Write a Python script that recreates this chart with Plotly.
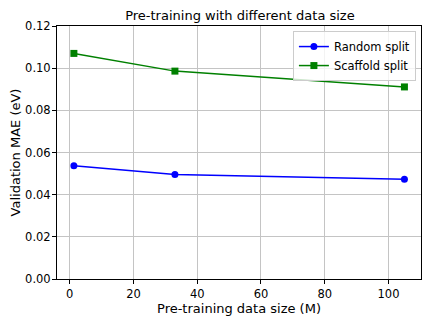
import plotly.graph_objects as go

data_size = [1.3, 33, 105]
random_split = [0.0537, 0.0496, 0.0473]
scaffold_split = [0.1070, 0.0986, 0.0911]

fig = go.Figure()
fig.add_trace(go.Scatter(x=data_size, y=random_split, mode="lines+markers", name="Random split",
                         line=dict(color="blue", width=1.5), marker=dict(symbol="circle", size=7, color="blue")))
fig.add_trace(go.Scatter(x=data_size, y=scaffold_split, mode="lines+markers", name="Scaffold split",
                         line=dict(color="green", width=1.5), marker=dict(symbol="square", size=7, color="green")))

axis_common = dict(showline=True, linecolor="black", linewidth=1, mirror=True,
                   ticks="outside", ticklen=4, tickcolor="black", automargin=False,
                   showgrid=True, gridcolor="#c4c4c4", gridwidth=1, zeroline=False,
                   tickfont=dict(family="DejaVu Sans", size=11.5, color="black"))

# The page body has an 8px default margin, so the figure is sized to fit inside the window.
fig.update_layout(
    width=424, height=316,
    margin=dict(l=49, r=11, t=18, b=45, autoexpand=False),
    paper_bgcolor="white", plot_bgcolor="white",
    title=dict(text="Pre-training with different data size", x=0.547, xanchor="center",
               y=0.975, yanchor="middle", font=dict(family="DejaVu Sans", size=13, color="black")),
    xaxis=dict(range=[-4.0, 110.2], tickvals=[0, 20, 40, 60, 80, 100],
               title=dict(text="Pre-training data size (M)", font=dict(family="DejaVu Sans", size=13, color="black"), standoff=2),
               **axis_common),
    yaxis=dict(range=[0, 0.12], tickvals=[0, 0.02, 0.04, 0.06, 0.08, 0.10, 0.12],
               ticktext=["0.00", "0.02", "0.04", "0.06", "0.08", "0.10", "0.12"],
               ticklabelstandoff=-1,
               title=dict(text="Validation MAE (eV)", font=dict(family="DejaVu Sans", size=13, color="black"), standoff=4),
               **axis_common),
    legend=dict(x=0.986, y=0.98, xanchor="right", yanchor="top", bgcolor="rgba(255,255,255,0.8)",
                bordercolor="#cccccc", borderwidth=1, font=dict(family="DejaVu Sans", size=11.5, color="black"),
                tracegroupgap=0),
    showlegend=True,
)

fig.write_html("out.html")
